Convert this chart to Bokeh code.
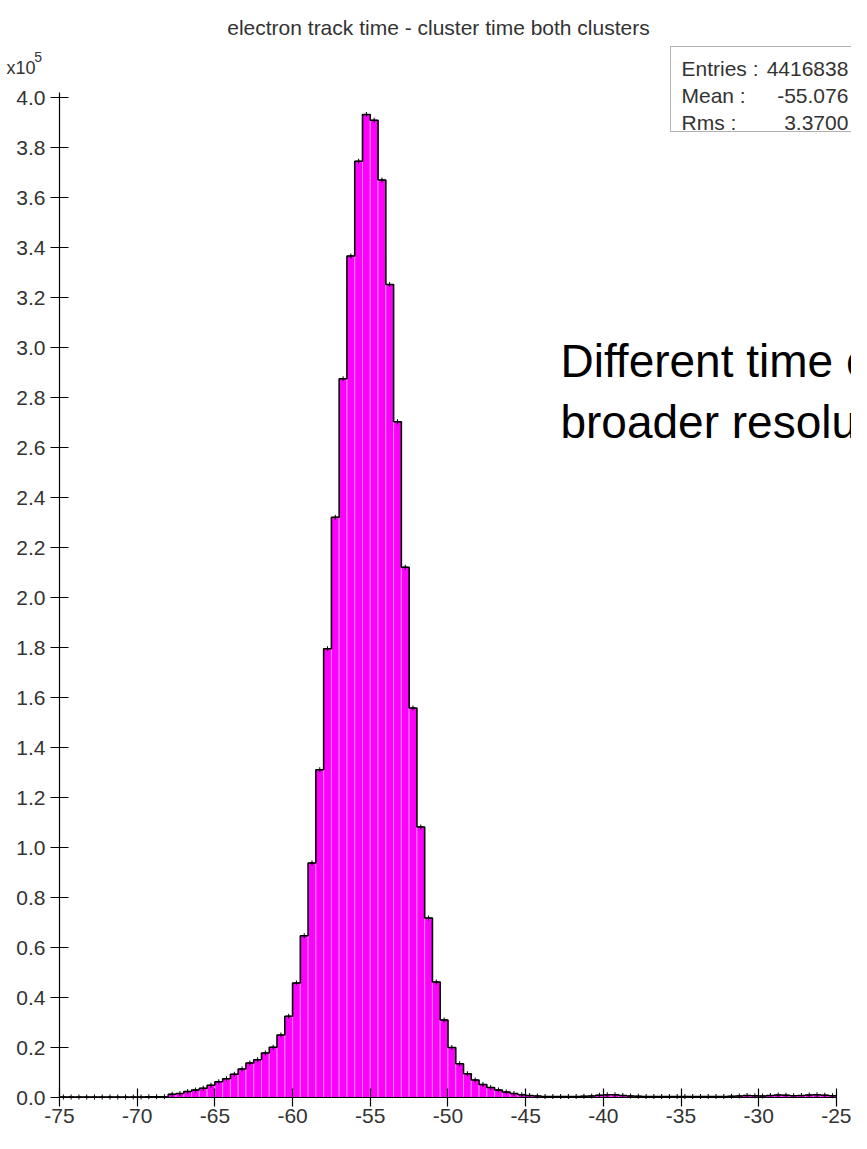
from bokeh.plotting import figure
from bokeh.models import Range1d, Label, BoxAnnotation, FixedTicker, NumeralTickFormatter, ColumnDataSource
from bokeh.embed import file_html
from bokeh.resources import INLINE

# ---------------- data ----------------
title_text = "electron track time - cluster time both clusters"
bin_start = -75.0
bin_width = 0.5
# counts per 0.5-wide bin, in units of 1e5 entries (100 bins from -75 to -25)
counts_e5 = [
    0.002, 0.002, 0.002, 0.002, 0.002, 0.002, 0.002, 0.002, 0.002, 0.002,
    0.002, 0.003, 0.003, 0.003,
    0.013, 0.016, 0.024, 0.030, 0.037, 0.049, 0.063, 0.075, 0.093, 0.114,
    0.138, 0.151, 0.178, 0.201, 0.250, 0.325,
    0.458, 0.647, 0.938, 1.311, 1.795, 2.321, 2.875, 3.366, 3.745, 3.932,
    3.909, 3.670, 3.252, 2.703, 2.121, 1.558, 1.082, 0.718, 0.462, 0.310,
    0.200, 0.135, 0.095, 0.070, 0.052, 0.040, 0.030, 0.022, 0.016, 0.011,
    0.008, 0.006,
    0.004, 0.004, 0.004, 0.004, 0.004, 0.005, 0.006, 0.009, 0.011, 0.011,
    0.008, 0.006, 0.005, 0.004, 0.004, 0.004, 0.004, 0.004, 0.004, 0.004,
    0.004, 0.004, 0.004, 0.004, 0.005, 0.006, 0.008, 0.007, 0.006, 0.008,
    0.010, 0.009, 0.007, 0.008, 0.010, 0.011, 0.009, 0.007,
]
x_ticks = [-75, -70, -65, -60, -55, -50, -45, -40, -35, -30, -25]
y_ticks = [0.0, 0.2, 0.4, 0.6, 0.8, 1.0, 1.2, 1.4, 1.6, 1.8, 2.0,
           2.2, 2.4, 2.6, 2.8, 3.0, 3.2, 3.4, 3.6, 3.8, 4.0]
y_exponent_base = "x10"
y_exponent_power = "5"
stats_names = ["Entries :", "Mean :", "Rms :"]
stats_values = ["4416838", "-55.076", "3.3700"]
note_lines = ["Different time c", "broader resolut"]

# ---------------- build ----------------
n = len(counts_e5)
lefts = [bin_start + i * bin_width for i in range(n)]
rights = [l + bin_width for l in lefts]
centers = [l + bin_width / 2 for l in lefts]
src = ColumnDataSource(dict(left=lefts, right=rights, top=counts_e5,
                            bottom=[0.0] * n, center=centers))

step_x, step_y = [], []
for l, r, c in zip(lefts, rights, counts_e5):
    step_x += [l, r]
    step_y += [c, c]

FONT = "Liberation Sans"
TXT = "#333333"

p = figure(width=851, height=1133, title=None,
           x_range=Range1d(-78.797, -24.03), y_range=Range1d(-0.144, 4.388),
           output_backend="svg", toolbar_location=None,
           min_border_left=0, min_border_right=0,
           min_border_top=0, min_border_bottom=0)
p.outline_line_color = None
p.xgrid.visible = False
p.ygrid.visible = False
p.background_fill_color = "white"
p.border_fill_color = "white"

p.quad(left="left", right="right", top="top", bottom="bottom", source=src,
       fill_color="#ff00ff", line_color="#ff8cff", line_width=1)
p.line(step_x, step_y, line_color="black", line_width=1.6)
p.scatter(x="center", y="top", source=src, marker="cross", size=5,
          line_color="black", line_width=1)

for ax in (p.xaxis, p.yaxis):
    ax.axis_line_color = "black"
    ax.axis_line_width = 1.2
    ax.major_tick_in = 9
    ax.major_tick_out = 9
    ax.major_tick_line_color = "black"
    ax.major_tick_line_width = 1.2
    ax.minor_tick_line_color = None
    ax.major_label_text_font = FONT
    ax.major_label_text_font_size = "21px"
    ax.major_label_text_color = TXT

p.xaxis.ticker = FixedTicker(ticks=x_ticks)
p.xaxis.formatter = NumeralTickFormatter(format="0")
p.xaxis.bounds = (-75, -25)
p.xaxis.major_label_standoff = 2
p.xaxis.fixed_location = 0
p.yaxis.ticker = FixedTicker(ticks=y_ticks)
p.yaxis.formatter = NumeralTickFormatter(format="0.0")
p.yaxis.bounds = (0, 4.02)
p.yaxis.major_label_standoff = 5
p.yaxis.fixed_location = -75

# title
p.add_layout(Label(x=-50.61, y=4.28, text=title_text, text_align="center",
                   text_baseline="alphabetic", text_font=FONT,
                   text_font_size="21px", text_color=TXT))
# exponent label (x10^5)
p.add_layout(Label(x=-78.41, y=4.12, text=y_exponent_base, text_align="left",
                   text_baseline="alphabetic", text_font=FONT,
                   text_font_size="18px", text_color=TXT))
p.add_layout(Label(x=-76.62, y=4.164, text=y_exponent_power, text_align="left",
                   text_baseline="alphabetic", text_font=FONT,
                   text_font_size="14px", text_color=TXT))

# stats box
p.add_layout(BoxAnnotation(left=-35.68, top=4.204, bottom=3.864,
                           fill_color=None, line_color="black", line_width=1))
stat_base_y = [4.116, 4.008, 3.90]
for name, val, yb in zip(stats_names, stats_values, stat_base_y):
    p.add_layout(Label(x=-34.97, y=yb, text=name, text_align="left",
                       text_baseline="alphabetic", text_font=FONT,
                       text_font_size="21px", text_color=TXT))
    p.add_layout(Label(x=-24.23, y=yb, text=val, text_align="right",
                       text_baseline="alphabetic", text_font=FONT,
                       text_font_size="21px", text_color=TXT))

# annotation text
for line, yb in zip(note_lines, [2.948, 2.704]):
    p.add_layout(Label(x=-42.76, y=yb, text=line, text_align="left",
                       text_baseline="alphabetic", text_font=FONT,
                       text_font_size="46px", text_color="black"))

open("out.html", "w").write(file_html(p, INLINE))
